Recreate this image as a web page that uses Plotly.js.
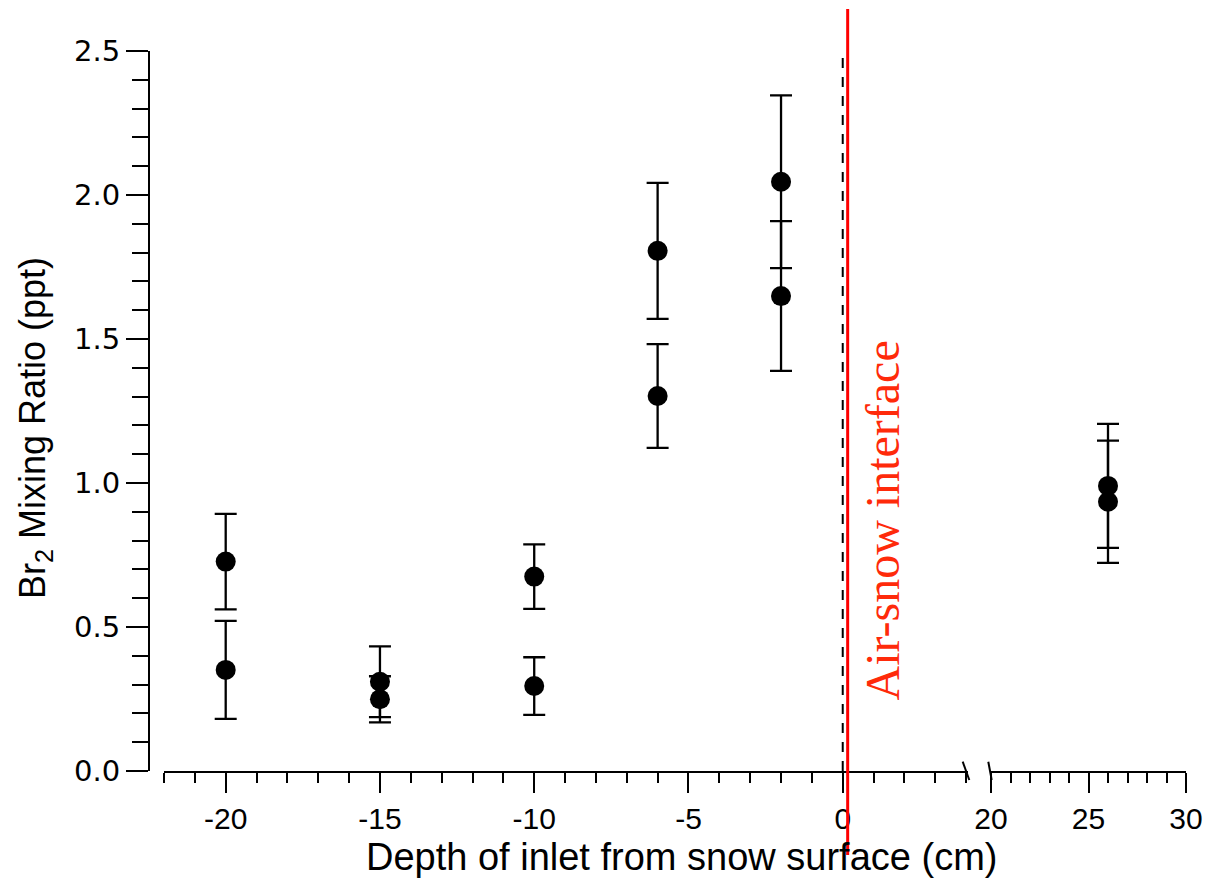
<!DOCTYPE html>
<html>
<head>
<meta charset="utf-8">
<script src="https://cdn.plot.ly/plotly-3.0.1.min.js"></script>
<style>html,body{margin:0;padding:0;background:#fff;}#chart{width:1207px;height:881px;}</style>
</head>
<body>
<div id="chart"></div>
<script>
// Snow-pack inlet data (left segment of the broken axis)
const depthSnow = [-20, -20, -15, -15, -10, -10, -6, -6, -2, -2];
const br2Snow = [0.727, 0.351, 0.310, 0.249, 0.675, 0.295, 1.806, 1.302, 2.046, 1.649];
const errSnow = [0.166, 0.170, 0.123, 0.080, 0.112, 0.100, 0.236, 0.180, 0.300, 0.260];
// Above-snow inlet data (right segment)
const heightAir = [26, 26];
const br2Air = [0.990, 0.935];
const errAir = [0.215, 0.212];

// Tick labels
const leftTickVals = [-20, -15, -10, -5, 0];
const leftTickText = ['-20', '-15', '-10', '-5', '0'];
const rightTickVals = [20, 25, 30];
const rightTickText = ['20', '25', '30'];

const xTitle = 'Depth of inlet from snow surface (cm)';
const yTitle = 'Br<sub>2</sub> Mixing Ratio (ppt)';
const interfaceLabel = 'Air-snow interface';

const W = 1207, H = 881;
const L = 149, R = 21, T = 51, B = 110;
const pw = W - L - R, ph = H - T - B;
const px = v => (v - L) / pw;
const py = v => (H - B - v) / ph;

const sans = 'Liberation Sans, Arial, sans-serif';
const markerStyle = {color: '#000', size: 20, line: {width: 0}};
const errStyle = {type: 'data', visible: true, color: '#000', thickness: 2.3, width: 11};

const traces = [
  {x: depthSnow, y: br2Snow, type: 'scatter', mode: 'markers', xaxis: 'x', yaxis: 'y',
   marker: markerStyle, error_y: Object.assign({array: errSnow}, errStyle), hoverinfo: 'x+y'},
  {x: heightAir, y: br2Air, type: 'scatter', mode: 'markers', xaxis: 'x2', yaxis: 'y',
   marker: markerStyle, error_y: Object.assign({array: errAir}, errStyle), hoverinfo: 'x+y'}
];

const xCommon = {
  showline: true, linewidth: 2, linecolor: '#000', zeroline: false, showgrid: false,
  ticks: 'outside', ticklen: 20, tickwidth: 2, tickcolor: '#000', tickmode: 'array',
  minor: {ticks: 'outside', dtick: 1, tick0: 0, ticklen: 10, tickwidth: 2, tickcolor: '#000', showgrid: false},
  tickfont: {family: sans, size: 30, color: '#000'},
  fixedrange: true
};

const layout = {
  width: W, height: H,
  margin: {l: L, r: R, t: T, b: B, pad: 0},
  paper_bgcolor: '#fff', plot_bgcolor: '#fff',
  showlegend: false,
  xaxis: Object.assign({}, xCommon, {domain: [px(164), px(968.3)], range: [-22, 4.07], anchor: 'y',
    tickvals: leftTickVals, ticktext: leftTickText}),
  xaxis2: Object.assign({}, xCommon, {domain: [px(991), 1], range: [20, 30], anchor: 'y',
    tickvals: rightTickVals, ticktext: rightTickText}),
  yaxis: {
    range: [0, 2.5], anchor: 'free', position: 0,
    showline: true, linewidth: 2, linecolor: '#000', zeroline: false, showgrid: false,
    ticks: 'outside', ticklen: 22, tickwidth: 2, tickcolor: '#000', dtick: 0.5, tick0: 0,
    tickformat: '.1f',
    minor: {ticks: 'outside', dtick: 0.1, ticklen: 16, tickwidth: 2, tickcolor: '#000', showgrid: false},
    tickfont: {family: 'DejaVu Sans, sans-serif', size: 29, color: '#000'},
    fixedrange: true
  },
  shapes: [
    // dashed line at x = 0
    {type: 'line', xref: 'x', yref: 'y', x0: 0, x1: 0, y0: 0, y1: 2.5,
     line: {color: '#000', width: 2, dash: '10px,9px'}},
    // red interface line
    {type: 'line', xref: 'x', yref: 'paper', x0: 0.16, x1: 0.16, y0: py(9), y1: py(855),
     line: {color: '#ff0000', width: 3}},
    // axis break marks
    {type: 'line', xref: 'paper', yref: 'paper', x0: px(962.7), x1: px(969.3), y0: py(761.7), y1: py(780),
     line: {color: '#000', width: 2}},
    {type: 'line', xref: 'paper', yref: 'paper', x0: px(988.3), x1: px(991.7), y0: py(761.7), y1: py(780),
     line: {color: '#000', width: 2}}
  ],
  annotations: [
    {text: interfaceLabel, xref: 'paper', yref: 'paper', x: px(881.5), y: py(521),
     xanchor: 'center', yanchor: 'middle', textangle: -90, showarrow: false,
     font: {family: 'Liberation Serif, Times New Roman, serif', size: 48, color: '#ff2a0a'}},
    {text: xTitle, xref: 'paper', yref: 'paper', x: px(681.5), y: py(857),
     xanchor: 'center', yanchor: 'middle', showarrow: false,
     font: {family: sans, size: 38, color: '#000'}},
    {text: yTitle, xref: 'paper', yref: 'paper', x: px(35), y: py(428),
     xanchor: 'center', yanchor: 'middle', textangle: -90, showarrow: false,
     font: {family: sans, size: 36, color: '#000'}}
  ]
};

Plotly.newPlot('chart', traces, layout, {displayModeBar: false, staticPlot: true});
</script>
</body>
</html>
